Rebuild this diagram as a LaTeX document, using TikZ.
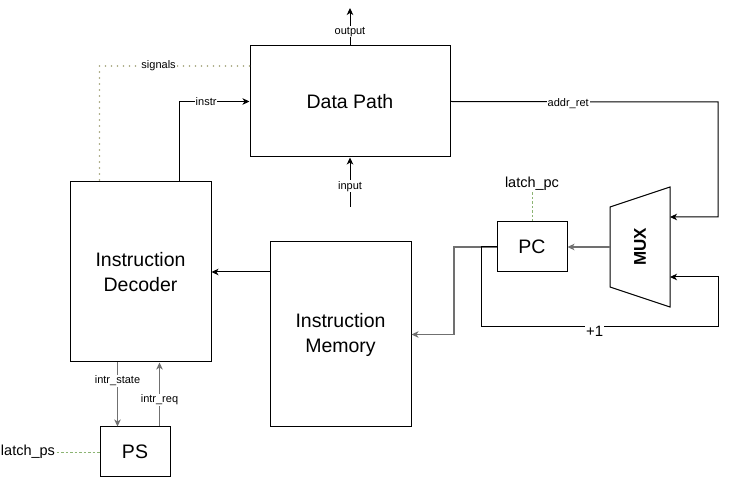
\documentclass[tikz,border=0pt]{standalone}
\usepackage{fontspec}
\setmainfont{Liberation Sans}
\usetikzlibrary{arrows.meta,calc}
\definecolor{wiregray}{RGB}{112,112,112}
\definecolor{ctrlolive}{RGB}{160,160,118}
\definecolor{latchgreen}{RGB}{140,180,115}
\begin{document}
\begin{tikzpicture}[x=1pt,y=-1pt,line width=1pt,
  block/.style={draw,line width=1pt,inner sep=0pt,align=center,
    font=\fontsize{19.5}{25}\selectfont},
  wire/.style={-{Stealth[length=7pt,width=6.5pt,inset=2pt]}},
  greywire/.style={wire,color=wiregray,line width=1.5pt},
  lbl/.style={fill=white,inner sep=1pt,text=black,font=\fontsize{11}{13}\selectfont},
  latchlbl/.style={inner sep=1pt,font=\fontsize{14.5}{17}\selectfont},
  latchline/.style={draw=latchgreen,line width=0.7pt,dash pattern=on 2.5pt off 2pt},
  sigline/.style={draw=ctrlolive,line width=1.6pt,line cap=round,dash pattern=on 0pt off 6pt}]
\useasboundingbox[fill=white] (0,0) rectangle (729,478);

% functional blocks
\node[block,minimum width=200pt,minimum height=111pt] (dp) at (350,101.5) {Data Path};
\node[block,minimum width=141pt,minimum height=180pt] (id) at (140.5,272) {Instruction\\Decoder};
\node[block,minimum width=141pt,minimum height=185pt] (im) at (340.5,334.5) {Instruction\\Memory};
\node[block,minimum width=70pt,minimum height=50pt] (pc) at (532,247) {PC};
\node[block,minimum width=70pt,minimum height=50pt] (ps) at (135,452) {PS};

% multiplexer
\draw (610,207) -- (670,187) -- (670,307) -- (610,287) -- cycle;
\node[rotate=90,font=\bfseries\fontsize{17}{20}\selectfont] (mux) at (640,247) {MUX};
\coordinate (muxa) at (670,217);
\coordinate (muxb) at (670,277);
\coordinate (muxo) at (610,247);

% free ends and bends
\coordinate (outtip) at (350,8);
\coordinate (insrc) at (350,207);
\coordinate (rr) at (718,102);
\coordinate (loopc) at (718,327);
\coordinate (inc) at (481,247);
\coordinate (pcj) at (454,247);

% latch strobes
\node[latchlbl] (lps) at (28,452) {latch\_ps};
\node[latchlbl] (lpc) at (532,184) {latch\_pc};
\draw[latchline] (lps.east) -- (ps.west);
\draw[latchline] (lpc.south) -- (pc.north);

% data path I/O
\draw[wire] (dp.north) -- node[lbl,pos=0.37]{output} (outtip);
\draw[wire] (insrc) -- node[lbl,pos=0.42]{input} (dp.south);

% control signals and instruction
\draw[sigline] ([yshift=35.5pt]dp.west) -| node[lbl,pos=0.303]{signals} ([xshift=30pt]id.north west);
\draw[wire] ([xshift=110pt]id.north west) |- node[lbl,pos=0.69]{instr} (dp.west);

% return address into the multiplexer
\draw[wire] (dp.east) -- node[lbl,pos=0.44,yshift=-1.5pt]{addr\_ret} (rr) |- (muxa);

% multiplexer to PC, PC to memory
\draw[greywire] (muxo) -- (pc.east);
\draw[greywire] (pc.west) -- (pcj) |- (im.east);
\draw[wire] (pc.west) -- (inc) |- node[lbl,pos=0.74,yshift=-4pt,font=\fontsize{15}{17}\selectfont]{+1} (loopc) |- (muxb);

% memory to decoder
\draw[wire] (im.west |- id.east) -- (id.east);

% interrupt handshake
\draw[greywire] ([xshift=48pt]id.south west) -- node[lbl,pos=0.29]{intr\_state} ([xshift=18pt]ps.north west);
\draw[greywire] ([xshift=60pt]ps.north west) -- node[lbl,pos=0.415]{intr\_req} ([xshift=90pt]id.south west);
\end{tikzpicture}
\end{document}
